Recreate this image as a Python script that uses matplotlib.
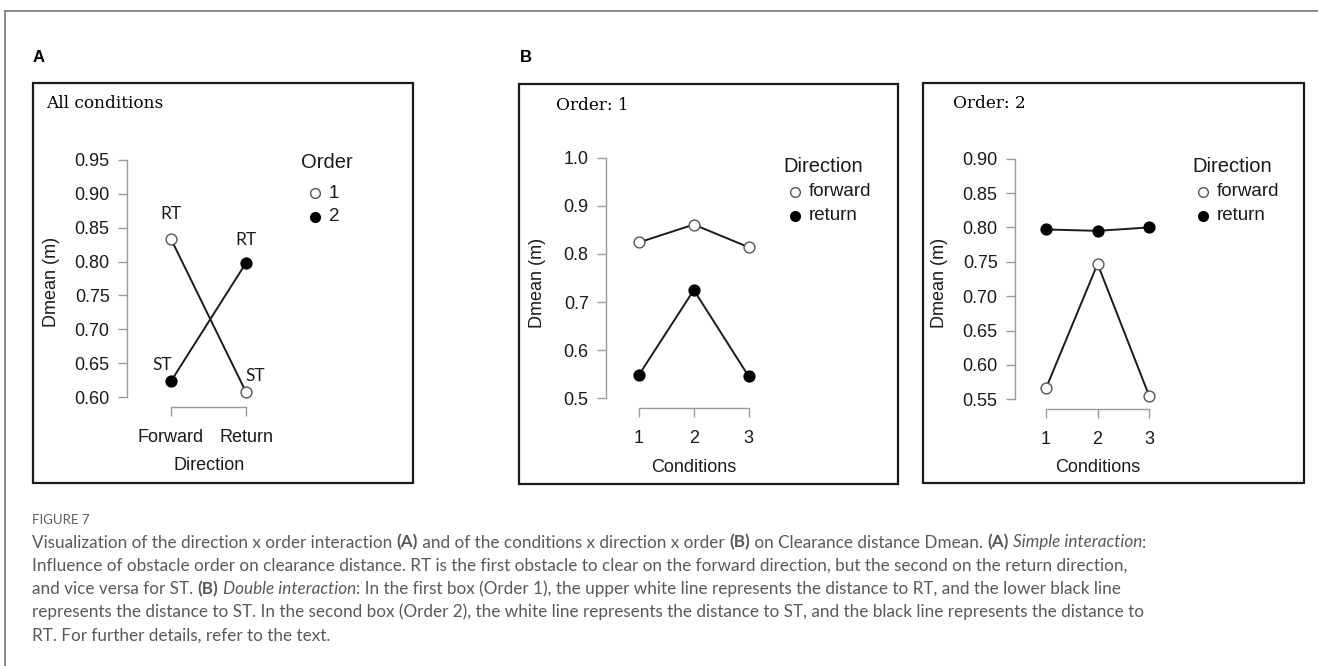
import matplotlib.pyplot as plt
from matplotlib.lines import Line2D
from matplotlib.patches import Rectangle

W, H = 1318, 666

# ---- data ----
directions = ['Forward', 'Return']
a_order1 = [0.833, 0.608]
a_order2 = [0.624, 0.798]
a_tags1 = ['RT', 'ST']
a_tags2 = ['ST', 'RT']
a_yticks = [0.60, 0.65, 0.70, 0.75, 0.80, 0.85, 0.90, 0.95]

conditions = [1, 2, 3]
b1_forward = [0.824, 0.861, 0.814]
b1_return = [0.549, 0.725, 0.546]
b1_yticks = [0.5, 0.6, 0.7, 0.8, 0.9, 1.0]

b2_forward = [0.566, 0.747, 0.555]
b2_return = [0.797, 0.795, 0.800]
b2_yticks = [0.55, 0.60, 0.65, 0.70, 0.75, 0.80, 0.85, 0.90]

caption_head = 'FIGURE 7'
caption_lines = [
    [('Visualization of the direction x order interaction ', 'n'), ('(A)', 'b'),
     (' and of the conditions x direction x order ', 'n'), ('(B)', 'b'),
     (' on Clearance distance Dmean. ', 'n'), ('(A)', 'b'), (' ', 'n'),
     ('Simple interaction', 'i'), (':', 'n')],
    [('Influence of obstacle order on clearance distance. RT is the first obstacle to clear '
      'on the forward direction, but the second on the return direction,', 'n')],
    [('and vice versa for ST. ', 'n'), ('(B)', 'b'), (' ', 'n'), ('Double interaction', 'i'),
     (': In the first box (Order 1), the upper white line represents the distance to RT, '
      'and the lower black line', 'n')],
    [('represents the distance to ST. In the second box (Order 2), the white line represents '
      'the distance to ST, and the black line represents the distance to', 'n')],
    [('RT. For further details, refer to the text.', 'n')],
]

SANS = 'Liberation Sans'
AXCOL = '#9a9a9a'
CAPFONT = 'Lato'
CAPSIZE = 12.35


def fx(x):
    return x / W


def fy(y):
    return 1 - y / H


def make_axes(fig, left, bottom, right, top, xlim, ylim):
    ax = fig.add_axes([fx(left), fy(bottom), (right - left) / W, (bottom - top) / H])
    ax.set_xlim(*xlim)
    ax.set_ylim(*ylim)
    ax.patch.set_alpha(0)
    for s in ['top', 'right']:
        ax.spines[s].set_visible(False)
    for s in ['left', 'bottom']:
        ax.spines[s].set_color(AXCOL)
        ax.spines[s].set_linewidth(1.0)
    ax.tick_params(direction='out', length=6.5, width=1.0, color=AXCOL,
                   labelsize=13, labelcolor='#1a1a1a')
    ax.tick_params(axis='y', pad=6)
    ax.tick_params(axis='x', pad=9)
    return ax


def finish_axes(ax, xt, xtl, yt, fmt, xlabel, xl_pos, yl_pos):
    ax.set_xticks(xt)
    ax.set_xticklabels(xtl, family=SANS, fontsize=13)
    ax.set_yticks(yt)
    ax.set_yticklabels([fmt.format(v) for v in yt], family=SANS, fontsize=13)
    ax.spines['bottom'].set_bounds(xt[0], xt[-1])
    ax.spines['left'].set_bounds(yt[0], yt[-1])
    ax.set_xlabel(xlabel, family=SANS, fontsize=13, color='#1a1a1a')
    ax.set_ylabel('Dmean (m)', family=SANS, fontsize=13, color='#1a1a1a')
    ax.xaxis.set_label_coords(fx(xl_pos[0]), fy(xl_pos[1]), transform=ax.figure.transFigure)
    ax.yaxis.set_label_coords(fx(yl_pos[0]), fy(yl_pos[1]), transform=ax.figure.transFigure)
    ax.xaxis.label.set_va('center')
    ax.yaxis.label.set_va('center')


def draw_series(ax, x, y, filled):
    ax.plot(x, y, color='#1a1a1a', lw=1.4, zorder=2)
    ax.plot(x, y, ls='none', marker='o', ms=7.8,
            mfc='#000000' if filled else 'white',
            mec='#000000' if filled else '#555555', mew=1.0, zorder=3)


def draw_legend(fig, title, labels, mx, title_y, row_ys, title_x):
    fig.text(fx(title_x), fy(title_y), title, family=SANS, fontsize=14.5,
             ha='center', va='center', color='#1a1a1a')
    for lab, yy, filled in zip(labels, row_ys, [False, True]):
        fig.add_artist(Line2D([fx(mx)], [fy(yy)], ls='none', marker='o', ms=7,
                              mfc='black' if filled else 'white',
                              mec='black' if filled else '#555555', mew=1.0,
                              transform=fig.transFigure))
        fig.text(fx(mx + 14), fy(yy), lab, family=SANS, fontsize=13.5,
                 ha='left', va='center', color='#1a1a1a')


fig = plt.figure(figsize=(W / 100, H / 100), dpi=100)

# outer frame (cropped at right/bottom)
fig.add_artist(Line2D([fx(5), fx(5)], [fy(11), fy(H)], color='#808080', lw=1.3,
                      transform=fig.transFigure))
fig.add_artist(Line2D([fx(5), fx(W)], [fy(11), fy(11)], color='#808080', lw=1.3,
                      transform=fig.transFigure))

# panel boxes
for (l, t, r, b) in [(33, 83, 413, 483), (519, 84, 898, 484), (923, 83, 1304, 483)]:
    fig.add_artist(Rectangle((fx(l), fy(b)), (r - l) / W, (b - t) / H, fill=False,
                             ec='#1a1a1a', lw=1.6, transform=fig.transFigure))

fig.text(fx(33), fy(58), 'A', family=SANS, fontsize=12, weight='bold', va='center')
fig.text(fx(520), fy(58), 'B', family=SANS, fontsize=12, weight='bold', va='center')

fig.text(fx(46), fy(103), 'All conditions', family='DejaVu Serif', fontsize=12.2, va='center')
fig.text(fx(556), fy(105), 'Order: 1', family='DejaVu Serif', fontsize=12.2, va='center')
fig.text(fx(953), fy(104), 'Order: 2', family='DejaVu Serif', fontsize=12.2, va='center')

# ---- panel A ----
xa = [1, 2]
axA = make_axes(fig, 127, 407, 280, 150, (0.413, 2.453), (0.586, 0.964))
draw_series(axA, xa, a_order1, False)
draw_series(axA, xa, a_order2, True)
offs1 = [(0, 25), (9, 16)]
offs2 = [(-9, 16), (0, 23)]
for xs, ys, tags, offs in [(xa, a_order1, a_tags1, offs1), (xa, a_order2, a_tags2, offs2)]:
    for xv, yv, tg, off in zip(xs, ys, tags, offs):
        axA.annotate(tg, (xv, yv), xytext=off, textcoords='offset pixels',
                     ha='center', va='center', family='Lato', fontsize=12.5, color='#1a1a1a')
finish_axes(axA, xa, directions, a_yticks, '{:.2f}', 'Direction', (209, 466), (51, 282))
draw_legend(fig, 'Order', ['1', '2'], 315, 162, [193, 217], 327)

# ---- panel B, order 1 ----
axB1 = make_axes(fig, 606, 408, 776, 148, (0.397, 3.5), (0.48, 1.02))
draw_series(axB1, conditions, b1_forward, False)
draw_series(axB1, conditions, b1_return, True)
finish_axes(axB1, conditions, [str(c) for c in conditions], b1_yticks, '{:.1f}',
            'Conditions', (694, 467), (537, 283))
draw_legend(fig, 'Direction', ['forward', 'return'], 795, 167, [192, 216], 823)

# ---- panel B, order 2 ----
axB2 = make_axes(fig, 1015, 409, 1175, 149, (0.4, 3.5), (0.536, 0.914))
draw_series(axB2, conditions, b2_forward, False)
draw_series(axB2, conditions, b2_return, True)
finish_axes(axB2, conditions, [str(c) for c in conditions], b2_yticks, '{:.2f}',
            'Conditions', (1098, 468), (939, 283))
draw_legend(fig, 'Direction', ['forward', 'return'], 1203, 167, [192, 216], 1232)

# ---- caption ----
CAPCOL = '#595959'
fig.text(fx(32), fy(523.5), caption_head, family=CAPFONT, fontsize=9.5, color='#5f5f5f',
         va='baseline')

renderer = fig.canvas.get_renderer()
styles = {'n': dict(weight='normal', style='normal'),
          'b': dict(weight='bold', style='normal'),
          'i': dict(weight='normal', style='italic')}


def text_width(s, st):
    t = fig.text(0, 0, s + '|', family=CAPFONT, fontsize=CAPSIZE, **styles[st])
    p = fig.text(0, 0, '|', family=CAPFONT, fontsize=CAPSIZE, **styles[st])
    w = t.get_window_extent(renderer).width - p.get_window_extent(renderer).width
    t.remove()
    p.remove()
    return w


for i, runs in enumerate(caption_lines):
    x = 32
    y = 547.5 + 23.2 * i
    for s, st in runs:
        fig.text(fx(x), fy(y), s, family=CAPFONT, fontsize=CAPSIZE, color=CAPCOL,
                 va='baseline', **styles[st])
        x += text_width(s, st)

fig.savefig('out.png', dpi=100)
